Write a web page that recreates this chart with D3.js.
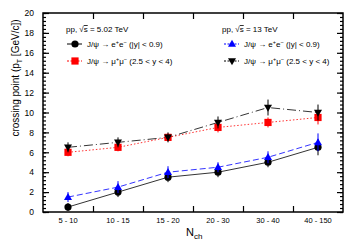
<html>
<head>
<style>
  body { margin: 0; background: #fff; }
  text { font-family: "Liberation Sans", Arial, sans-serif; }
</style>
</head>
<body>
<svg></svg>
<script src="https://d3js.org/d3.v7.min.js"></script>
<script>
// categories and values
const cats = ["5 - 10", "10 - 15", "15 - 20", "20 - 30", "30 - 40", "40 - 150"];
const ee502 = [0.5, 2.0, 3.5, 4.0, 5.0, 6.5];
const ee502Err = [0.4, 0.5, 0.5, 0.5, 0.5, 0.8];
const ee13 = [1.5, 2.5, 4.0, 4.5, 5.5, 7.0];
const ee13Err = [0.5, 0.6, 0.6, 0.5, 0.6, 0.9];
const mm502 = [6.0, 6.5, 7.5, 8.5, 9.0, 9.5];
const mm502Err = [0.4, 0.4, 0.4, 0.5, 0.5, 0.7];
const mm13 = [6.5, 7.0, 7.5, 9.0, 10.5, 10.0];
const mm13Err = [0.5, 0.5, 0.5, 0.6, 0.8, 0.8];
const yTicks = [0, 2, 4, 6, 8, 10, 12, 14, 16, 18, 20];

const width = 355, height = 245;
const svg = d3.select("svg").attr("width", width).attr("height", height);

const x = d3.scaleBand().domain(cats).range([43, 343]);
const xEdge = d3.scaleLinear().domain([0, cats.length]).range([43, 343]);
const y = d3.scaleLinear().domain([0, 20]).range([212, 13]);

// frame
svg.append("rect")
  .attr("x", 43).attr("y", 13).attr("width", 300).attr("height", 199)
  .attr("fill", "none").attr("stroke", "#000").attr("stroke-width", 1.5);

// y axis: major ticks + labels, minor ticks, mirrored on right
const yAx = svg.append("g").attr("transform", "translate(43,0)")
  .call(d3.axisLeft(y).tickValues(yTicks).tickSize(-6).tickPadding(9));
yAx.select(".domain").remove();
yAx.selectAll("text").attr("font-size", 8.5).attr("font-family", "Liberation Sans, Arial, sans-serif");
const minor = d3.range(0, 20.01, 0.4);
svg.append("g").attr("transform", "translate(43,0)")
  .call(d3.axisLeft(y).tickValues(minor).tickSize(-3).tickFormat(""))
  .select(".domain").remove();
svg.append("g").attr("transform", "translate(343,0)")
  .call(d3.axisRight(y).tickValues(yTicks).tickSize(-6).tickFormat(""))
  .select(".domain").remove();
svg.append("g").attr("transform", "translate(343,0)")
  .call(d3.axisRight(y).tickValues(minor).tickSize(-3).tickFormat(""))
  .select(".domain").remove();

// x axis: labels at bin centres, ticks at bin edges
const xAx = svg.append("g").attr("transform", "translate(0,212)")
  .call(d3.axisBottom(x).tickSize(0).tickPadding(6));
xAx.select(".domain").remove();
xAx.selectAll("text").attr("font-size", 7.5).attr("font-family", "Liberation Sans, Arial, sans-serif");
const edges = d3.range(1, cats.length);
svg.append("g").attr("transform", "translate(0,212)")
  .call(d3.axisBottom(xEdge).tickValues(edges).tickSize(-6).tickFormat(""))
  .select(".domain").remove();
svg.append("g").attr("transform", "translate(0,13)")
  .call(d3.axisTop(xEdge).tickValues(edges).tickSize(-6).tickFormat(""))
  .select(".domain").remove();
svg.selectAll(".tick line").attr("stroke-width", 1.2);

// axis titles
const yl = svg.append("text")
  .attr("transform", "translate(19,78) rotate(-90)")
  .attr("text-anchor", "middle").attr("font-size", 10);
yl.append("tspan").text("crossing point (p");
yl.append("tspan").text("T").attr("font-size", 7).attr("dy", 3);
yl.append("tspan").text(" [GeV/c])").attr("dy", -3);

const xl = svg.append("text").attr("x", 186).attr("y", 236).attr("font-size", 11);
xl.append("tspan").text("N");
xl.append("tspan").text("ch").attr("font-size", 8).attr("dy", 3);

// series
const cx = i => x(cats[i]) + x.bandwidth() / 2;
const series = [
  {vals: mm502, err: mm502Err, color: "#ff0000", dash: "1.5,2", lw: 0.8, marker: "square"},
  {vals: mm13, err: mm13Err, color: "#000", dash: "9,3,1,3", lw: 0.8, marker: "down"},
  {vals: ee502, err: ee502Err, color: "#000", dash: null, lw: 0.8, marker: "circle"},
  {vals: ee13, err: ee13Err, color: "#0000ff", dash: "6,3", lw: 0.8, marker: "up"}
];

function drawMarker(g, type, color) {
  if (type === "circle") g.append("circle").attr("r", 3.6).attr("fill", color);
  else if (type === "square") g.append("rect").attr("x", -3.6).attr("y", -3.6).attr("width", 7.2).attr("height", 7.2).attr("fill", color);
  else if (type === "up") g.append("path").attr("d", "M0,-4.2L4,2.8L-4,2.8Z").attr("fill", color);
  else g.append("path").attr("d", "M0,4.2L4,-2.8L-4,-2.8Z").attr("fill", color);
}

const line = d3.line().x((d, i) => cx(i)).y(d => y(d));
series.forEach(s => {
  svg.append("path").datum(s.vals)
    .attr("d", line).attr("fill", "none")
    .attr("stroke", s.color).attr("stroke-width", s.lw)
    .attr("stroke-dasharray", s.dash);
});
series.forEach(s => {
  svg.append("g").selectAll("line").data(s.vals).join("line")
    .attr("x1", (d, i) => cx(i)).attr("x2", (d, i) => cx(i))
    .attr("y1", (d, i) => y(d - s.err[i])).attr("y2", (d, i) => y(d + s.err[i]))
    .attr("stroke", s.color).attr("stroke-width", 1);
  s.vals.forEach((d, i) => {
    const g = svg.append("g").attr("transform", "translate(" + cx(i) + "," + y(d) + ")");
    drawMarker(g, s.marker, s.color);
  });
});

// legends
function legendTitle(xp, energy) {
  const t = svg.append("text").attr("x", xp).attr("y", 32).attr("font-size", 8);
  t.append("tspan").text("pp, √");
  t.append("tspan").text("s").attr("text-decoration", "overline");
  t.append("tspan").text(" = " + energy + " TeV");
}
function legendEntry(xp, yp, s, lep, range) {
  svg.append("line").attr("x1", xp).attr("x2", xp + 15).attr("y1", yp).attr("y2", yp)
    .attr("stroke", s.color).attr("stroke-width", 1).attr("stroke-dasharray", s.dash ? "2,1.5" : null);
  drawMarker(svg.append("g").attr("transform", "translate(" + (xp + 8) + "," + yp + ")"), s.marker, s.color);
  const t = svg.append("text").attr("x", xp + 20).attr("y", yp + 3).attr("font-size", 8);
  t.append("tspan").text("J/ψ → " + lep);
  t.append("tspan").text("+").attr("font-size", 5.5).attr("dy", -3);
  t.append("tspan").text(lep).attr("dy", 3);
  t.append("tspan").text("−").attr("font-size", 5.5).attr("dy", -3);
  t.append("tspan").text(" " + range).attr("dy", 3);
}
legendTitle(66, "5.02");
legendEntry(67, 44, series[2], "e", "(|y| < 0.9)");
legendEntry(67, 61, series[0], "μ", "(2.5 < y < 4)");
legendTitle(222, "13");
legendEntry(224, 44, series[3], "e", "(|y| < 0.9)");
legendEntry(224, 61, series[1], "μ", "(2.5 < y < 4)");
</script>
</body>
</html>
